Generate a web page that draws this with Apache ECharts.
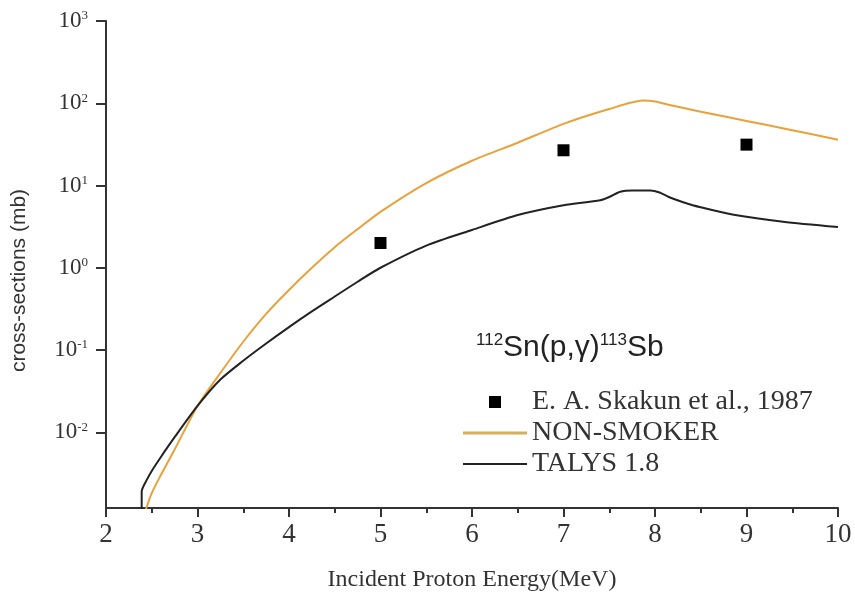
<!DOCTYPE html>
<html>
<head>
<meta charset="utf-8">
<script src="https://cdn.jsdelivr.net/npm/echarts@6/dist/echarts.min.js"></script>
<style>html,body{margin:0;padding:0;background:#fff;}#c{width:855px;height:593px;}</style>
</head>
<body>
<div id="c"></div>
<script>
// ---- data ----
const xTicks = [2, 3, 4, 5, 6, 7, 8, 9, 10];
const yTickExponents = [-2, -1, 0, 1, 2, 3];

const expEnergy = [5, 7, 9];
const expValues = [2.0, 26.8, 31.4];

const nsEnergy = [2.43, 2.5, 2.6, 2.75, 3.0, 3.25, 3.5, 3.75, 4.0, 4.25, 4.5, 4.75, 5.0, 5.5, 6.0, 6.5, 7.0, 7.5, 7.87, 8.0, 8.2, 8.5, 9.0, 9.5, 10.0];
const nsValues = [0.0011, 0.00182, 0.00302, 0.00617, 0.0209, 0.0525, 0.126, 0.275, 0.537, 1.0, 1.78, 2.95, 4.79, 10.7, 20.0, 33.1, 56.2, 85.1, 108, 105, 93, 79, 61, 47, 36];

const talysEnergy = [2.39, 2.39, 2.45, 2.5, 2.6, 2.75, 3.0, 3.25, 3.5, 3.75, 4.0, 4.25, 4.5, 4.75, 5.0, 5.5, 6.0, 6.5, 7.0, 7.4, 7.5, 7.62, 7.75, 7.95, 8.05, 8.15, 8.3, 8.5, 8.86, 9.4, 10.0];
const talysValues = [0.0011, 0.0019, 0.00269, 0.00339, 0.00501, 0.00871, 0.0209, 0.0437, 0.0741, 0.120, 0.19, 0.295, 0.447, 0.676, 1.0, 1.86, 2.88, 4.37, 5.75, 6.61, 7.24, 8.41, 8.71, 8.71, 8.22, 7.24, 6.31, 5.43, 4.42, 3.63, 3.13];

const seriesNames = ['E. A. Skakun et al., 1987', 'NON-SMOKER', 'TALYS 1.8'];

const zip = (a, b) => a.map((v, i) => [v, b[i]]);

const chart = echarts.init(document.getElementById('c'), null, {renderer: 'canvas'});
const serif = 'Liberation Serif';
const sans = 'Liberation Sans';

chart.setOption({
  animation: false,
  backgroundColor: '#ffffff',
  title: {
    text: '{s|112}{t|Sn(p,γ)}{s|113}{t|Sb}',
    left: 476,
    top: 332,
    padding: 0,
    textStyle: {
      fontWeight: 'normal',
      rich: {
        t: {fontFamily: sans, fontSize: 30, fontWeight: 'normal', color: '#222', lineHeight: 32},
        s: {fontFamily: sans, fontSize: 17, fontWeight: 'normal', color: '#222', verticalAlign: 'top', lineHeight: 32, padding: [0, 0, 12, 0]}
      }
    }
  },
  legend: {
    orient: 'vertical',
    left: 458,
    top: 383,
    itemWidth: 64,
    itemHeight: 12,
    itemGap: 3,
    symbolKeepAspect: true,
    textStyle: {fontFamily: serif, fontSize: 28, color: '#333'},
    data: [
      {name: seriesNames[0], icon: 'path://M0,0H10V10H0Z', itemStyle: {color: '#000', opacity: 1}},
      {name: seriesNames[1], icon: 'path://M0,0H64V3H0Z', itemStyle: {color: '#D7AE5C'}},
      {name: seriesNames[2], icon: 'path://M0,0H64V2H0Z'}
    ]
  },
  grid: {left: 106, right: 17, top: 21, bottom: 85, containLabel: false, outerBoundsMode: 'none'},
  xAxis: {
    type: 'value',
    min: xTicks[0],
    max: xTicks[xTicks.length - 1],
    interval: 1,
    name: 'Incident Proton Energy(MeV)',
    nameLocation: 'middle',
    nameGap: 60,
    nameTextStyle: {fontFamily: serif, fontSize: 24, color: '#333'},
    axisLine: {lineStyle: {color: '#333', width: 2}},
    axisTick: {length: 9, lineStyle: {color: '#333', width: 2}},
    minorTick: {show: true, splitNumber: 2, length: 5, lineStyle: {color: '#333', width: 2}},
    splitLine: {show: false},
    axisLabel: {fontFamily: serif, fontSize: 27, color: '#333', margin: 13}
  },
  yAxis: {
    type: 'log',
    logBase: 10,
    min: 0.0012,
    max: Math.pow(10, yTickExponents[yTickExponents.length - 1]),
    name: 'cross-sections (mb)',
    nameLocation: 'middle',
    nameGap: 76,
    nameRotate: 90,
    nameTextStyle: {fontFamily: sans, fontSize: 21, color: '#333', padding: [0, 32, 0, 0]},
    axisLine: {show: true, lineStyle: {color: '#333', width: 2}},
    axisTick: {length: 10, lineStyle: {color: '#333', width: 2}},
    splitLine: {show: false},
    minorTick: {show: false},
    axisLabel: {
      showMinLabel: false,
      margin: 18,
      formatter: function (v) {
        const e = Math.round(Math.log10(v));
        return '{b|10}{s|' + e + '}';
      },
      rich: {
        b: {fontFamily: serif, fontSize: 23, color: '#333'},
        s: {fontFamily: serif, fontSize: 13, color: '#333', verticalAlign: 'top', padding: [0, 0, 10, 0]}
      }
    }
  },
  series: [
    {
      name: seriesNames[0],
      type: 'scatter',
      symbol: 'rect',
      symbolSize: 12,
      itemStyle: {color: '#000', opacity: 1},
      data: zip(expEnergy, expValues),
      z: 5
    },
    {
      name: seriesNames[1],
      type: 'line',
      symbol: 'none',
      smooth: 0.25,
      lineStyle: {color: '#E9A23B', width: 2},
      itemStyle: {color: '#E9A23B'},
      data: zip(nsEnergy, nsValues)
    },
    {
      name: seriesNames[2],
      type: 'line',
      symbol: 'none',
      smooth: 0.25,
      lineStyle: {color: '#222', width: 2},
      itemStyle: {color: '#222'},
      data: zip(talysEnergy, talysValues)
    }
  ]
});
</script>
</body>
</html>
